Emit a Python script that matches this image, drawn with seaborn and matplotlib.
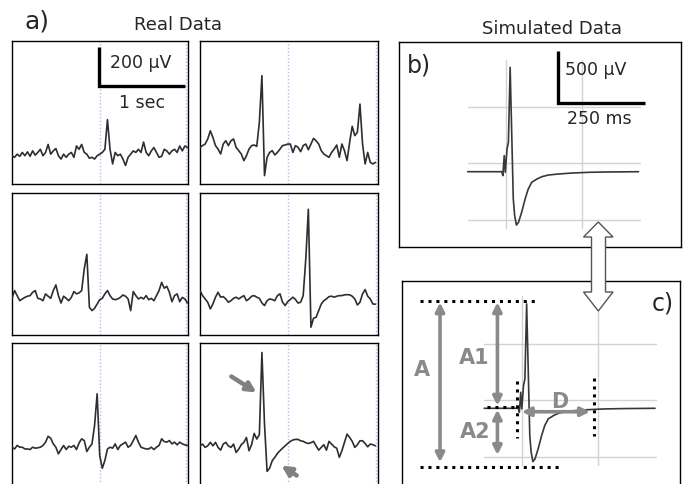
import numpy as np
import pandas as pd
import matplotlib
matplotlib.use("Agg")
import matplotlib.pyplot as plt
import seaborn as sns
from matplotlib.patches import Polygon

sns.set_theme(style="white")
plt.rcParams['font.family'] = ['DejaVu Sans']

W, H = 695, 485

# ---------------- data ----------------
DT = 0.03  # seconds between samples of the real recordings

real_r1_left = [0, -8, 8, -3, 17, 0, 20, -3, 25, 3, 17, 33, 0, 17, 58, 8, 25, 37, 0, -17,
                8, -8, 8, 17, -8, 50, 33, 58, 17, 8, -13, -8, -17, 0, 8, 17, 33, 185, 33, -42,
                17, 0, 8, -17, -50, -8, 8, 25, 17, 33, 17, 70, 17, 0, 25, 42, 17, -8, -3, 33,
                25, 8, 25, 33, 17, 50, 25, 50, 42]
real_r1_right = [0, 9, 17, 43, 85, 51, 9, -9, -34, 17, 34, 9, 34, 43, 0, -17, -34, -68, -43, -9,
                 9, 12, 5, 128, 368, -145, -51, -26, -17, -39, -26, -9, 9, 12, 17, 17, -26, 9, 0, -22,
                 9, 17, -12, 17, 46, 34, 17, -17, -34, -43, -51, -26, -9, 12, -51, 17, -17, -68, 26, 108,
                 60, 77, 222, 17, -85, -26, -77, -85, -77]
real_r2_left = [-14, 26, 0, -26, -17, -9, -3, 0, 17, 26, -14, -17, -26, 9, -3, -14, 26, 55, 0, -38,
                -3, -14, -26, -9, 21, 9, 14, 26, 137, 212, -60, -77, -65, -43, -21, -14, 9, 26, 0, -17,
                -21, -17, -9, 3, -3, -17, -77, 21, 0, -17, -9, -17, 0, -21, -14, -26, 0, 26, 68, 38,
                48, 17, -31, 0, 9, -31, -9, -17, -38]
real_r2_right = [43, 17, 0, -17, -51, -26, 9, 34, 9, 12, 0, -17, -9, 3, 9, 0, 9, 17, -9, 0,
                 14, 17, 9, 3, -21, -34, -9, 0, -3, -9, 17, 26, -17, -34, -14, -3, 9, -3, -21, -17,
                 17, 205, 460, -145, -99, -94, -60, -26, -9, 0, 12, 14, 9, 14, 17, 17, 21, 22, 21, 14,
                 0, -31, -17, 26, 48, 14, 0, -26, -27]
real_r3_left = [0, -9, 9, 0, 0, -9, -9, -12, 0, -5, -3, 0, 9, 26, 56, 46, 17, 0, -34, -12,
                9, -12, 5, 0, 9, -12, 22, 43, 34, -22, 0, 17, 111, 274, -43, -108, -68, -9, 0, -5,
                17, -12, 9, 17, 26, 0, 9, 34, 60, 26, 0, -5, -9, -9, 0, -12, 0, 9, 43, 29,
                26, 34, 17, 26, 12, 26, 17, 12, 9]
real_r3_right = [-9, 0, -17, -9, 9, -9, 9, -17, -31, 0, 9, -9, -17, 0, -43, -26, -3, 9, 34, -34,
                 -3, 55, 26, 48, 470, 103, -140, -123, -85, -68, -48, -34, -21, -9, 3, 14, 21, 24, 24, 17,
                 14, 7, 3, 7, 14, -9, -31, -17, -3, -31, 14, 0, -14, -21, -68, -34, 9, 51, 34, 14,
                 -17, -3, 17, 17, 3, -14, 0, -3, -9]

# simulated potential (ms, uV)
sim_time_ms = [0, 98, 101, 105, 108, 113, 117, 122, 131, 135, 140, 146, 155, 165, 174, 184,
               199, 213, 232, 261, 299, 347, 395, 491]
sim_uv = [0, 0, -38, 154, -6, 218, 282, 1002, -262, -422, -512, -486, -390, -262, -166, -102,
          -70, -48, -32, -22, -13, -6, -3, 0]

# ---------------- layout helpers ----------------
fig = plt.figure(figsize=(W / 100, H / 100), dpi=100)


def px_axes(l, t, r, b):
    ax = fig.add_axes([l / W, 1 - b / H, (r - l) / W, (b - t) / H])
    for s in ax.spines.values():
        s.set_visible(True)
        s.set_color("black")
        s.set_linewidth(1.0)
    ax.set_xticks([])
    ax.set_yticks([])
    ax.set_xlabel("")
    ax.set_ylabel("")
    return ax


def ftxt(x, y, s, **kw):
    fig.text(x / W, 1 - y / H, s, **kw)


TRACE = "#2e2e2e"
LAV = "#b9b9f2"
UV_PER_PX = 5.13
PX_PER_S = 86.0

real_panels = [
    (real_r1_left, (12, 42, 188, 185), -145),
    (real_r1_right, (200, 42, 378, 185), -188),
    (real_r2_left, (12, 194, 188, 336), -202),
    (real_r2_right, (200, 194, 378, 336), -185),
    (real_r3_left, (12, 344, 188, 487), -199),
    (real_r3_right, (200, 344, 378, 487), -215),
]

axes_real = []
for vals, (l, t, r, b), ybot in real_panels:
    ax = px_axes(l, t, r, b)
    xmax = (r - l) / PX_PER_S
    ax.set_xlim(0, xmax)
    ax.set_ylim(ybot, ybot + (b - t) * UV_PER_PX)
    for xv in (1.02, xmax - 0.025):
        ax.axvline(xv, color=LAV, lw=1.0, ls=(0, (1, 1.5)), zorder=1)
    df = pd.DataFrame({"t": DT * np.arange(len(vals)), "v": vals})
    sns.lineplot(data=df, x="t", y="v", ax=ax, color=TRACE, lw=1.2,
                 estimator=None, sort=False, zorder=3)
    ax.set_xlabel("")
    ax.set_ylabel("")
    axes_real.append(ax)

# scale bar on first real panel
ax0 = axes_real[0]
ax0.plot([1.01, 1.01, 2.01], [558, 358, 358], color="black", lw=2.4,
         solid_joinstyle="miter", solid_capstyle="butt", zorder=4)
ax0.text(1.14, 481, "200 µV", fontsize=12.5, va="center", ha="left")
ax0.text(1.51, 275, "1 sec", fontsize=12.5, va="center", ha="center")

# arrows on last real panel
GRAY_ARROW = "#808080"
for (x0, y0), (x1, y1) in [((229, 376), (259, 395)), ((299, 478), (279, 465))]:
    fig.add_artist(matplotlib.patches.FancyArrowPatch(
        (x0 / W, 1 - y0 / H), (x1 / W, 1 - y1 / H), transform=fig.transFigure,
        arrowstyle="-|>", mutation_scale=14, lw=3.2, color=GRAY_ARROW, zorder=6))

# ---------------- simulated panels ----------------
MS_PER_PX = 2.874
SIM_UV_PER_PX = 9.6
GRID = "#d2d2d2"


def sim_panel(box, origin):
    l, t, r, b = box
    ox, oy = origin
    ax = px_axes(l, t, r, b)
    ax.set_xlim((l - ox) * MS_PER_PX, (r - ox) * MS_PER_PX)
    ax.set_ylim((oy - b) * SIM_UV_PER_PX, (oy - t) * SIM_UV_PER_PX)
    for gx in (109, 328):
        ax.plot([gx, gx], [-545, 1075], color=GRID, lw=1.0, zorder=1)
    for gy in (618, 84, -466):
        ax.plot([0, 495], [gy, gy], color=GRID, lw=1.0, zorder=1)
    df = pd.DataFrame({"t": sim_time_ms, "v": sim_uv})
    sns.lineplot(data=df, x="t", y="v", ax=ax, color="#383838", lw=1.2,
                 estimator=None, sort=False, zorder=3)
    ax.set_xlabel("")
    ax.set_ylabel("")
    return ax


axb = sim_panel((399, 43, 681, 248), (467.7, 172.7))
axc = sim_panel((402, 282, 680, 487), (484.2, 409.3))

# scale bar in b
axb.plot([260, 260, 510], [1157, 657, 657], color="black", lw=2.4,
         solid_joinstyle="miter", solid_capstyle="butt", zorder=4)
axb.text(280, 986, "500 µV", fontsize=12.5, va="center", ha="left")
axb.text(378, 520, "250 ms", fontsize=12.5, va="center", ha="center")

# annotations in c
DOT = dict(color="black", lw=2.2, ls=(0, (1, 1.6)), zorder=4)
axc.plot([-185, 149], [1027, 1027], **DOT)
axc.plot([-185, 220], [-561, -561], **DOT)
axc.plot([7, 98], [10, 10], **DOT)
axc.plot([93, 93], [265, -288], **DOT)
axc.plot([316, 316], [288, -263], **DOT)

AGRAY = "#8a8a8a"
AP = dict(arrowstyle="<|-|>", color=AGRAY, lw=2.6, mutation_scale=13, shrinkA=0, shrinkB=0)
axc.annotate("", xy=(-127, 1017), xytext=(-127, -518), arrowprops=AP, zorder=5)
axc.annotate("", xy=(38, 1018), xytext=(38, 25), arrowprops=AP, zorder=5)
axc.annotate("", xy=(38, -13), xytext=(38, -448), arrowprops=AP, zorder=5)
axc.annotate("", xy=(108, -33), xytext=(304, -33), arrowprops=AP, zorder=5)
LBL = dict(color=AGRAY, fontsize=15, fontweight="bold", va="center", ha="center", zorder=6)
axc.text(-179, 378, "A", **LBL)
axc.text(-29, 490, "A1", **LBL)
axc.text(-26, -215, "A2", **LBL)
axc.text(218, 73, "D", **LBL)

# hollow double arrow between b and c
pts = [(598.3, 223), (613, 238), (605.5, 238), (605.5, 293), (613, 293), (598.3, 312),
       (583.5, 293), (591.5, 293), (591.5, 238), (583.5, 238)]
poly = Polygon([(x / W, 1 - y / H) for x, y in pts], closed=True, transform=fig.transFigure,
               facecolor="white", edgecolor="#555555", lw=1.0, zorder=7)
fig.add_artist(poly)

# titles / panel letters
ftxt(25, 21, "a)", fontsize=18, va="center", ha="left")
ftxt(178, 25, "Real Data", fontsize=13, va="center", ha="center")
ftxt(552, 29, "Simulated Data", fontsize=13, va="center", ha="center")
ftxt(407, 66, "b)", fontsize=17, va="center", ha="left")
ftxt(652, 303, "c)", fontsize=17, va="center", ha="left")

fig.savefig("out.png", dpi=100)
